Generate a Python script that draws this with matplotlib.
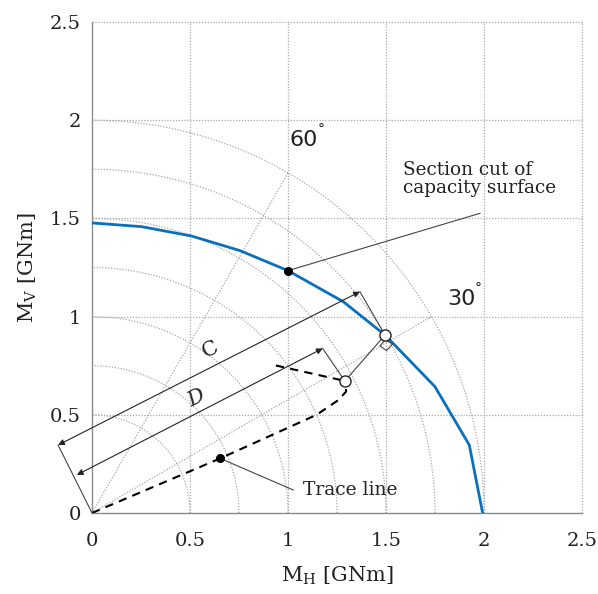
import numpy as np
import matplotlib
matplotlib.use("Agg")
import matplotlib.pyplot as plt

# ---------------- data ----------------
cap_mh = [0.0, 0.253, 0.509, 0.755, 1.0, 1.282, 1.495, 1.75, 1.925, 1.993]
cap_mv = [1.477, 1.458, 1.41, 1.336, 1.234, 1.076, 0.906, 0.643, 0.346, 0.0]

trace_mh = [0.0, 0.654, 1.146, 1.257, 1.296, 1.297]
trace_mv = [0.0, 0.278, 0.5, 0.575, 0.618, 0.645]
unload_mh = [1.27, 0.925]
unload_mv = [0.677, 0.754]

load_pt = (1.29, 0.672)     # open circle on trace
cap_pt = (1.495, 0.906)     # open circle on capacity curve
sec_dot = (1.0, 1.234)
trace_dot = (0.654, 0.278)

c_start = (-0.173, 0.346)
c_end = (1.367, 1.127)
d_start = (-0.077, 0.194)
d_end = (1.177, 0.838)

rect_mark_x = [1.495, 1.469, 1.503, 1.534, 1.495]
rect_mark_y = [0.881, 0.851, 0.827, 0.861, 0.881]

circle_radii = [0.5, 0.75, 1.0, 1.25, 1.5, 1.75, 2.0]
ray_angles = [30, 60]
ticks = [0, 0.5, 1, 1.5, 2, 2.5]
tick_labels = ["0", "0.5", "1", "1.5", "2", "2.5"]

# ---------------- figure ----------------
plt.rcParams['font.family'] = ['DejaVu Serif']
plt.rcParams['mathtext.fontset'] = 'dejavuserif'
fig = plt.figure(figsize=(5.98, 5.94), dpi=100)
ax = fig.add_axes([92/598, 1-513/594, 490/598, 491/594])
ax.set_xlim(0, 2.5)
ax.set_ylim(0, 2.5)

gcol = '#a8a8a8'
dot = (0, (1, 1.3))
for t in ticks[1:]:
    ax.plot([t, t], [0, 2.5], ls=dot, color=gcol, lw=0.9, zorder=1, clip_on=False)
    ax.plot([0, 2.5], [t, t], ls=dot, color=gcol, lw=0.9, zorder=1, clip_on=False)

th = np.linspace(0, np.pi/2, 200)
for r in circle_radii:
    ax.plot(r*np.cos(th), r*np.sin(th), ls=dot, color=gcol, lw=0.9, zorder=1)
for a in ray_angles:
    ar = np.deg2rad(a)
    ax.plot([0, 2*np.cos(ar)], [0, 2*np.sin(ar)], ls=dot, color=gcol, lw=0.9, zorder=1)

# capacity curve
ax.plot(cap_mh, cap_mv, color='#0a6fbd', lw=2.0, zorder=3)

# trace line
ax.plot(trace_mh, trace_mv, color='black', lw=1.5, ls=(0, (4, 3)), zorder=3)
ax.plot(unload_mh, unload_mv, color='black', lw=1.5, ls=(0, (4, 3)), zorder=3)

lc = '#444444'
ax.plot([load_pt[0], cap_pt[0]], [load_pt[1], cap_pt[1]], color=lc, lw=0.8, zorder=3)
ax.plot(rect_mark_x, rect_mark_y, color=lc, lw=0.8, zorder=3)

# dimension arrows
ax.plot([0, c_start[0]], [0, c_start[1]], color=lc, lw=0.8, clip_on=False, zorder=3)
ax.plot([c_end[0], cap_pt[0]], [c_end[1], cap_pt[1]], color=lc, lw=0.8, zorder=3)
ax.plot([d_end[0], load_pt[0]], [d_end[1], load_pt[1]], color=lc, lw=0.8, zorder=3)
for s, e in [(c_start, c_end), (d_start, d_end)]:
    ax.annotate('', xy=e, xytext=s, xycoords='data', textcoords='data',
                arrowprops=dict(arrowstyle='<|-|>', color='#222222', lw=0.8,
                                mutation_scale=9, shrinkA=0, shrinkB=0),
                annotation_clip=False, zorder=4)

ax.text(0.602, 0.83, 'C', fontsize=15, rotation=27, ha='center', va='center', color='#222222')
ax.text(0.534, 0.584, 'D', fontsize=15, rotation=27, ha='center', va='center', color='#222222', style='italic')

# markers
ax.plot(*load_pt, marker='o', ms=8, mfc='white', mec='#222222', mew=1.0, zorder=5)
ax.plot(*cap_pt, marker='o', ms=8, mfc='white', mec='#222222', mew=1.0, zorder=5)
ax.plot(*sec_dot, marker='o', ms=5.5, color='black', zorder=5)
ax.plot(*trace_dot, marker='o', ms=5.5, color='black', zorder=5)

# annotations
ax.plot([sec_dot[0], 1.98], [sec_dot[1], 1.526], color=lc, lw=0.8, zorder=3)
ax.text(1.588, 1.70, 'Section cut of\ncapacity surface', fontsize=13.3, ha='left', va='center',
        linespacing=1.0, color='#222222')
ax.plot([trace_dot[0], 1.027], [trace_dot[1], 0.117], color=lc, lw=0.8, zorder=3)
ax.text(1.078, 0.115, 'Trace line', fontsize=13.5, ha='left', va='center', color='#222222')

ax.text(1.082, 1.9, '60', fontsize=16, family='DejaVu Sans', ha='center', va='center', color='#222222')
ax.text(1.17, 1.95, '°', fontsize=10, family='DejaVu Sans', ha='center', va='center', color='#222222')
ax.text(1.886, 1.09, '30', fontsize=16, family='DejaVu Sans', ha='center', va='center', color='#222222')
ax.text(1.972, 1.14, '°', fontsize=10, family='DejaVu Sans', ha='center', va='center', color='#222222')

# axes styling
for sp in ['top', 'right']:
    ax.spines[sp].set_visible(False)
for sp in ['left', 'bottom']:
    ax.spines[sp].set_color('#8a8a8a')
    ax.spines[sp].set_linewidth(1.0)
    ax.spines[sp].set_zorder(2)
ax.set_xticks(ticks)
ax.set_yticks(ticks)
ax.set_xticklabels(tick_labels)
ax.set_yticklabels(tick_labels)
ax.tick_params(axis='x', length=0, labelsize=14, colors='#222222', pad=14)
ax.tick_params(axis='y', length=0, labelsize=14, colors='#222222', pad=8)
ax.set_xlabel(r'M$_\mathrm{H}$ [GNm]', fontsize=15, color='#222222', labelpad=10)
ax.set_ylabel(r'M$_\mathrm{V}$ [GNm]', fontsize=15, color='#222222', labelpad=8)

fig.savefig('out.png', dpi=100)
